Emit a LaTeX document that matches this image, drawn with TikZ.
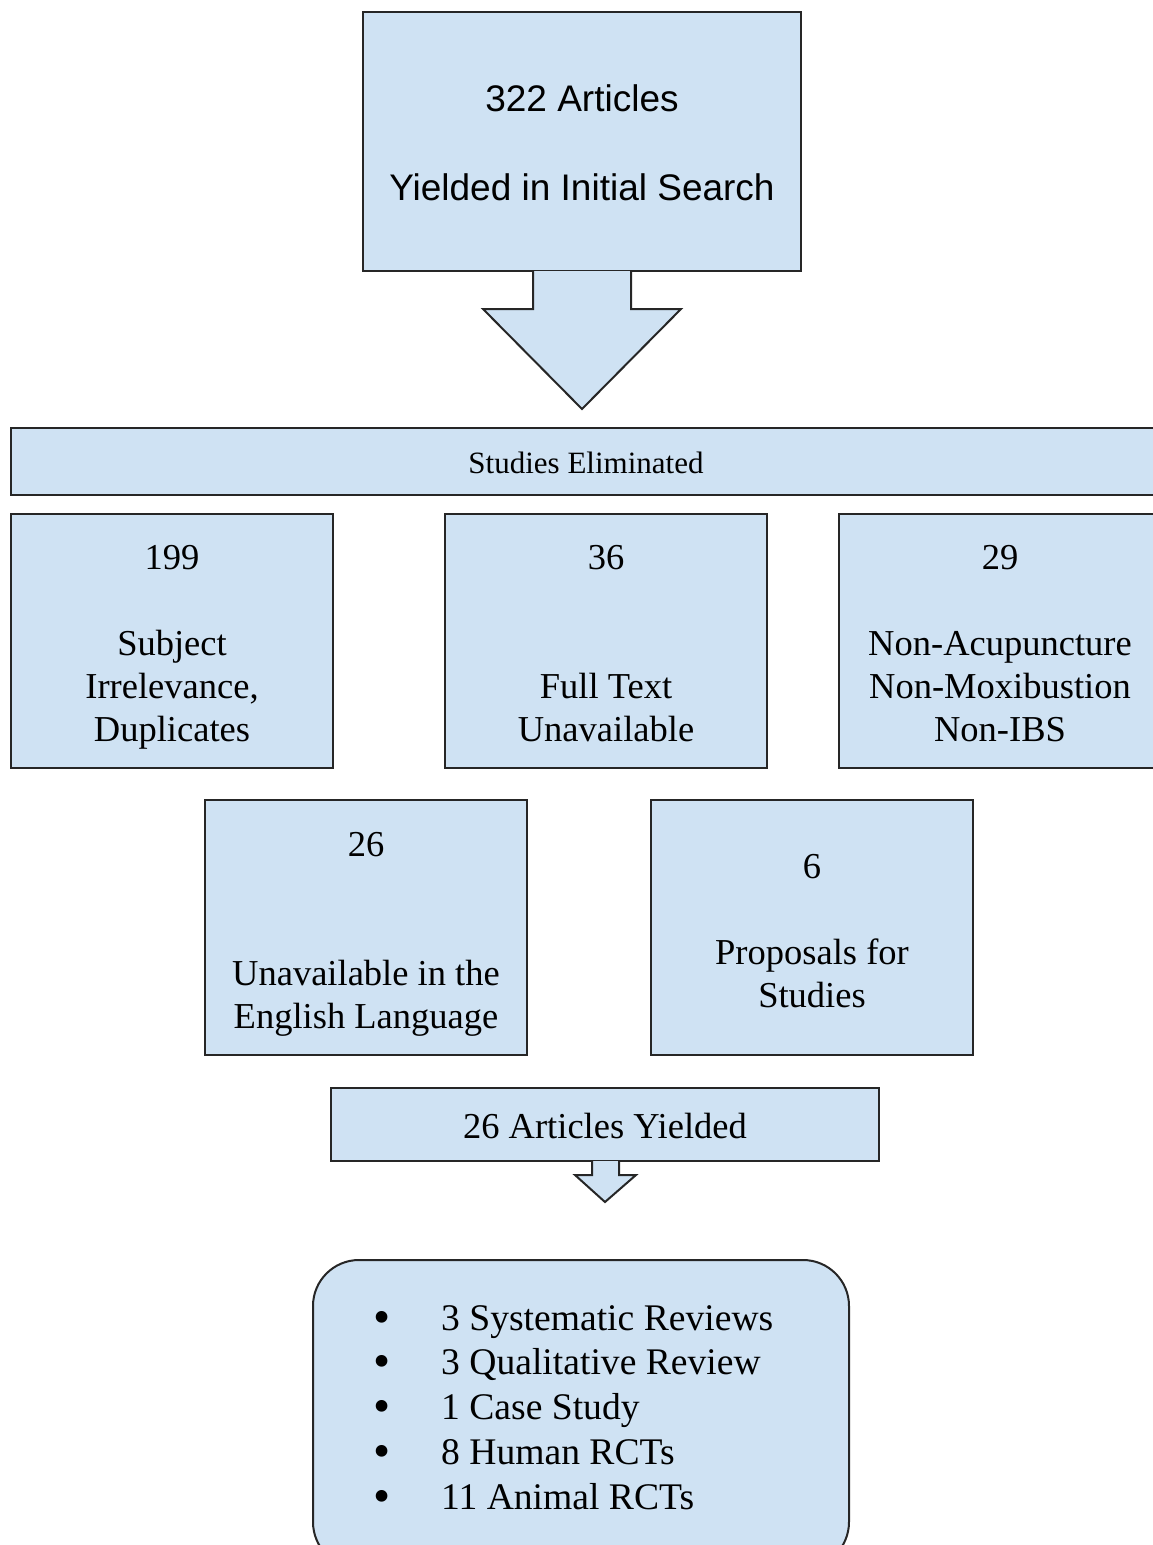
\documentclass[tikz,border=0pt]{standalone}
\usepackage{fontspec}
\usepackage{graphicx}
\setmainfont{Liberation Serif}
\newfontfamily\sansf{Liberation Sans}
\definecolor{boxfill}{HTML}{CFE2F3}
\definecolor{boxline}{HTML}{262626}
\newcommand{\bigbul}{\makebox[67.5pt][l]{\raisebox{-3pt}{\scalebox{1.3}{•}}}}
\begin{document}
\begin{tikzpicture}[x=1pt,y=-1pt,
  box/.style={draw=boxline,fill=boxfill,line width=2pt,inner sep=0pt,outer sep=0pt},
  txt/.style={anchor=base,inner sep=0pt,font=\fontsize{36.5}{44}\selectfont},
  stxt/.style={anchor=base,inner sep=0pt,font=\sansf\fontsize{37}{44}\selectfont},
  btxt/.style={anchor=base west,inner sep=0pt,font=\fontsize{37.6}{44.75}\selectfont}]
\useasboundingbox (0,0) rectangle (1153,1545);
\clip (0,0) rectangle (1153,1545);
% top box
\node[box,minimum width=438pt,minimum height=259pt] (top) at (582,141.5) {};
\node[stxt] (t1) at (582,111) {322 Articles};
\node[stxt] (t2) at (582,200) {Yielded in Initial Search};
% big arrow
\draw[box,line join=miter] (533,271) -- (533,309) -- (483,309) -- (582,409) -- (681,309) -- (631,309) -- (631,271);
% bar
\node[box,minimum width=1150pt,minimum height=67pt] (bar) at (586,461.5) {};
\node[anchor=base,inner sep=0pt,font=\fontsize{31}{36}\selectfont] (bart) at (586,473) {Studies Eliminated};
% row 1
\node[box,minimum width=322pt,minimum height=254pt] (b1) at (172,641) {};
\node[txt] at (172,569) {199};
\node[txt] at (172,655) {Subject};
\node[txt] at (172,698) {Irrelevance,};
\node[txt] at (172,741) {Duplicates};
\node[box,minimum width=322pt,minimum height=254pt] (b2) at (606,641) {};
\node[txt] at (606,569) {36};
\node[txt] at (606,698) {Full Text};
\node[txt] at (606,741) {Unavailable};
\node[box,minimum width=322pt,minimum height=254pt] (b3) at (1000,641) {};
\node[txt] at (1000,569) {29};
\node[txt] at (1000,655) {Non-Acupuncture};
\node[txt] at (1000,698) {Non-Moxibustion};
\node[txt] at (1000,741) {Non-IBS};
% row 2
\node[box,minimum width=322pt,minimum height=255pt] (b4) at (366,927.5) {};
\node[txt] at (366,856) {26};
\node[txt] at (366,985) {Unavailable in the};
\node[txt] at (366,1028) {English Language};
\node[box,minimum width=322pt,minimum height=255pt] (b5) at (812,927.5) {};
\node[txt] at (812,878) {6};
\node[txt] at (812,964) {Proposals for};
\node[txt] at (812,1007) {Studies};
% yielded
\node[box,minimum width=548pt,minimum height=73pt] (y) at (605,1124.5) {};
\node[txt] at (605,1138) {26 Articles Yielded};
% small arrow
\draw[box,line join=miter] (592,1161) -- (592,1175) -- (575,1175) -- (605,1202) -- (636,1175) -- (619,1175) -- (619,1161);
% result box
\draw[box,rounded corners=46pt] (313,1260) rectangle (849,1568);
\node[btxt] (list) at (373.5,1330) {\begin{tabular}[t]{@{}l@{}}
\bigbul 3 Systematic Reviews\\
\bigbul 3 Qualitative Review\\
\bigbul 1 Case Study\\
\bigbul 8 Human RCTs\\
\bigbul 11 Animal RCTs
\end{tabular}};
\end{tikzpicture}
\end{document}
